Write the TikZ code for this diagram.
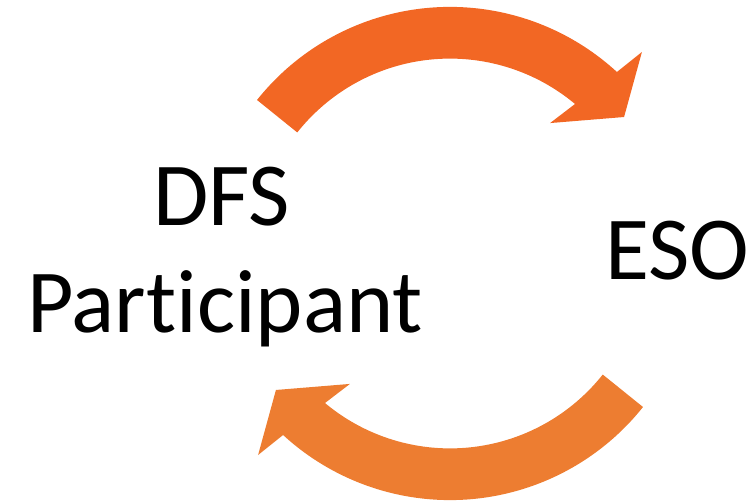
\documentclass[tikz,border=0pt]{standalone}
\usepackage{fontspec}
\setmainfont[Ligatures={NoCommon,NoRare}]{Carlito}
\definecolor{arrowtop}{HTML}{F26724}
\definecolor{arrowbot}{HTML}{ED7D31}
\tikzset{
  lbl/.style={font=\fontsize{67.5}{81}\selectfont, inner sep=0pt, anchor=base, text=black},
}
\begin{document}
\begin{tikzpicture}[x=0.75pt,y=0.75pt]
\useasboundingbox (0,0) rectangle (755,502);
\coordinate (C) at (450,248.5);
% top arrow
\begin{scope}[shift={(C)}]
\fill[arrowtop] (141.5:246.6) arc[start angle=141.5, end angle=47.4, radius=246.6]
  -- (46.4:278.3) -- (38.1:221.2) -- (52.5:164.4) -- (50.1:194.9)
  arc[start angle=50.1, end angle=141.6, radius=194.9] -- cycle;
\end{scope}
% bottom arrow
\begin{scope}[shift={(C)},rotate=180]
\fill[arrowbot] (141.5:246.6) arc[start angle=141.5, end angle=47.4, radius=246.6]
  -- (46.4:278.3) -- (38.1:221.2) -- (52.5:164.4) -- (50.1:194.9)
  arc[start angle=50.1, end angle=141.6, radius=194.9] -- cycle;
\end{scope}
\node[lbl] (dfs) at (221.5,276) {DFS};
\node[lbl] (part) at (225,169) {Participant};
\node[lbl] (eso) at (677.5,222) {ESO};
\end{tikzpicture}
\end{document}
